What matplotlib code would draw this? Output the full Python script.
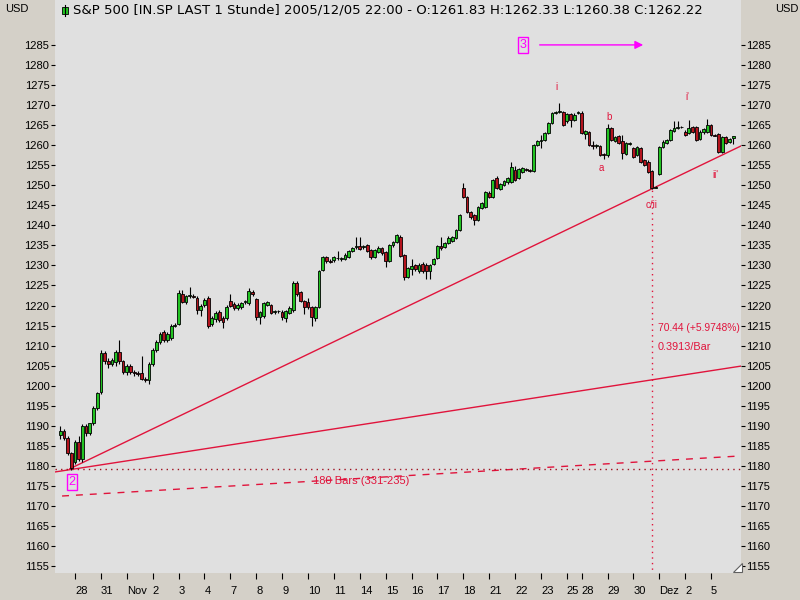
import numpy as np
import matplotlib.pyplot as plt
from matplotlib.patches import Rectangle, Polygon
from matplotlib.lines import Line2D

plt.rcParams['font.family'] = ['Liberation Sans', 'DejaVu Sans']

# bars per trading day (hourly bars), and the date label of each day
day_bars = [4, 7, 7, 7, 7, 7, 7, 7, 7, 7, 7, 7, 7, 7, 7, 7, 7, 7, 7, 7,
            4, 7, 7, 7, 7, 7, 7]
day_labels = ["", "28", "31", "Nov", "2", "3", "4", "7", "8", "9", "10", "11",
              "14", "15", "16", "17", "18", "21", "22", "23", "25", "28", "29",
              "30", "Dez", "2", "5"]

# hourly OHLC, one line per day
opens = [
    1187.6, 1188.8, 1187.0, 1183.2,                              # Oct 27
    1181.0, 1186.0, 1181.8, 1190.0, 1188.2, 1190.6, 1194.5,      # Oct 28
    1198.5, 1208.2, 1206.2, 1205.5, 1206.0, 1208.5, 1206.2,      # Oct 31
    1203.4, 1205.0, 1203.5, 1203.1, 1203.2, 1201.8, 1201.5,      # Nov 1
    1205.5, 1209.0, 1211.0, 1213.5, 1211.5, 1212.0, 1215.0,      # Nov 2
    1215.5, 1223.0, 1221.0, 1222.3, 1222.5, 1222.0, 1219.0,      # Nov 3
    1220.2, 1221.8, 1215.3, 1216.6, 1218.4, 1217.0, 1216.9,      # Nov 4
    1221.1, 1220.4, 1219.5, 1219.7, 1220.9, 1220.6, 1223.5,      # Nov 7
    1221.6, 1217.1, 1217.4, 1220.2, 1220.1, 1218.4, 1218.6,      # Nov 8
    1218.4, 1216.8, 1218.2, 1218.9, 1225.6, 1223.4, 1221.1,      # Nov 9
    1220.9, 1219.6, 1216.8, 1219.7, 1228.9, 1232.0, 1231.0,      # Nov 10
    1231.3, 1231.8, 1231.6, 1231.7, 1232.2, 1233.6, 1234.6,      # Nov 11
    1234.8, 1234.6, 1235.1, 1233.8, 1232.2, 1233.4, 1234.4,      # Nov 14
    1233.4, 1231.1, 1235.0, 1235.9, 1237.1, 1232.6, 1227.1,      # Nov 15
    1229.1, 1230.0, 1228.6, 1230.3, 1230.2, 1228.6, 1230.3,      # Nov 16
    1231.9, 1234.9, 1234.6, 1235.6, 1236.1, 1236.8, 1238.9,      # Nov 17
    1249.3, 1247.1, 1243.3, 1242.6, 1241.3, 1244.4, 1244.6,      # Nov 18
    1248.0, 1247.1, 1251.8, 1249.1, 1250.0, 1250.8, 1250.8,      # Nov 21
    1253.8, 1251.8, 1253.4, 1253.9, 1253.7, 1253.6, 1260.1,      # Nov 22
    1261.0, 1261.3, 1263.0, 1265.5, 1268.0, 1268.3, 1268.3,      # Nov 23
    1265.9, 1267.8, 1266.3, 1268.0,                              # Nov 25
    1268.1, 1262.8, 1263.3, 1260.0, 1259.8, 1259.8, 1257.7,      # Nov 28
    1257.6, 1264.2, 1261.1, 1262.3, 1261.1, 1257.8, 1260.4,      # Nov 29
    1259.2, 1257.6, 1259.2, 1256.3, 1255.9, 1253.6, 1249.4,      # Nov 30
    1252.8, 1259.6, 1260.5, 1261.3, 1263.6, 1264.3, 1264.5,      # Dec 1
    1263.4, 1263.0, 1264.6, 1264.5, 1261.5, 1263.2, 1263.4,      # Dec 2
    1265.0, 1262.5, 1262.8, 1258.4, 1262.0, 1260.9, 1261.83,     # Dec 5
]
highs = [
    1190.0, 1189.2, 1187.4, 1183.6,
    1186.5, 1187.5, 1190.5, 1190.5, 1190.8, 1195.0, 1198.5,
    1208.8, 1208.6, 1207.0, 1207.0, 1209.0, 1211.5, 1206.5,
    1205.3, 1205.4, 1204.0, 1203.6, 1207.5, 1202.3, 1206.0,
    1209.5, 1211.5, 1213.5, 1213.8, 1213.5, 1215.3, 1215.6,
    1223.8, 1224.0, 1222.6, 1224.6, 1223.0, 1222.4, 1220.4,
    1222.0, 1222.3, 1217.5, 1218.6, 1218.8, 1217.4, 1220.2,
    1223.0, 1220.8, 1220.6, 1221.0, 1221.3, 1224.5, 1223.8,
    1222.0, 1218.7, 1220.9, 1221.2, 1220.5, 1218.9, 1219.0,
    1218.8, 1218.9, 1219.8, 1226.0, 1226.0, 1223.6, 1221.4,
    1221.8, 1219.9, 1220.0, 1228.8, 1232.3, 1232.4, 1231.5,
    1232.4, 1233.5, 1232.0, 1233.0, 1233.9, 1234.7, 1237.0,
    1237.0, 1235.0, 1235.4, 1234.0, 1234.2, 1234.8, 1234.7,
    1233.7, 1235.4, 1236.2, 1237.8, 1237.6, 1232.9, 1229.7,
    1231.5, 1230.4, 1230.5, 1230.8, 1230.5, 1230.3, 1231.9,
    1235.2, 1237.0, 1235.9, 1237.4, 1237.4, 1239.2, 1242.9,
    1250.5, 1247.4, 1243.6, 1242.9, 1244.9, 1245.8, 1248.6,
    1248.6, 1251.6, 1252.2, 1250.5, 1251.2, 1252.0, 1255.8,
    1254.9, 1254.4, 1254.6, 1254.2, 1254.0, 1260.4, 1261.4,
    1262.5, 1263.3, 1265.8, 1268.3, 1268.6, 1270.5, 1268.6,
    1268.1, 1268.1, 1267.9, 1268.5,
    1268.4, 1263.9, 1263.6, 1261.0, 1260.2, 1260.1, 1258.0,
    1265.3, 1264.5, 1262.4, 1262.6, 1262.5, 1260.7, 1260.8,
    1259.6, 1259.9, 1259.5, 1256.6, 1256.2, 1253.9, 1249.8,
    1259.9, 1261.2, 1261.6, 1264.1, 1266.0, 1265.9, 1264.9,
    1263.7, 1266.3, 1264.9, 1264.8, 1263.7, 1264.4, 1266.5,
    1265.3, 1262.8, 1263.1, 1262.3, 1262.3, 1261.8, 1262.33,
]
lows = [
    1186.8, 1186.5, 1182.8, 1179.0,
    1180.5, 1181.2, 1181.0, 1187.5, 1187.8, 1190.2, 1194.0,
    1198.0, 1205.5, 1204.5, 1205.0, 1204.8, 1205.5, 1203.0,
    1202.8, 1203.0, 1202.5, 1202.5, 1201.5, 1200.9, 1200.5,
    1205.0, 1208.5, 1210.5, 1211.0, 1211.0, 1211.5, 1214.7,
    1215.2, 1220.6, 1220.5, 1222.0, 1221.8, 1218.0, 1217.5,
    1219.6, 1214.5, 1214.8, 1216.0, 1216.0, 1214.5, 1216.3,
    1219.6, 1219.0, 1218.8, 1219.2, 1220.5, 1220.2, 1222.4,
    1216.5, 1215.5, 1217.0, 1219.8, 1217.8, 1218.0, 1218.2,
    1216.5, 1216.0, 1217.8, 1218.5, 1222.5, 1220.8, 1218.0,
    1219.2, 1214.9, 1216.2, 1219.4, 1228.5, 1230.6, 1230.5,
    1230.9, 1231.4, 1231.2, 1231.4, 1231.9, 1233.3, 1234.2,
    1233.8, 1234.2, 1233.4, 1231.6, 1231.8, 1233.0, 1232.6,
    1229.5, 1230.8, 1234.7, 1235.6, 1232.0, 1226.4, 1226.8,
    1227.6, 1228.6, 1228.0, 1228.2, 1226.5, 1226.5, 1230.0,
    1231.5, 1233.8, 1234.3, 1235.3, 1235.8, 1236.5, 1238.6,
    1246.8, 1243.0, 1241.7, 1240.0, 1241.0, 1244.0, 1244.3,
    1246.8, 1246.8, 1249.0, 1248.7, 1249.7, 1250.4, 1250.5,
    1251.0, 1251.5, 1253.1, 1253.5, 1253.3, 1253.3, 1259.8,
    1259.3, 1261.0, 1262.7, 1265.2, 1267.7, 1268.0, 1264.8,
    1265.5, 1264.5, 1266.0, 1267.7,
    1262.8, 1261.5, 1259.7, 1259.0, 1259.4, 1257.3, 1256.5,
    1257.0, 1261.0, 1260.8, 1260.3, 1256.5, 1257.5, 1260.1,
    1256.8, 1257.3, 1255.6, 1254.8, 1253.1, 1249.0, 1249.2,
    1252.5, 1259.3, 1260.2, 1261.0, 1263.3, 1264.0, 1264.2,
    1262.2, 1262.7, 1263.1, 1261.0, 1261.2, 1262.9, 1263.1,
    1262.2, 1262.2, 1258.0, 1258.0, 1260.3, 1260.6, 1260.38,
]
closes = [
    1188.8, 1187.0, 1183.2, 1179.6,
    1186.0, 1181.8, 1190.0, 1188.2, 1190.6, 1194.5, 1198.2,
    1208.2, 1206.2, 1205.5, 1206.5, 1208.5, 1206.2, 1203.5,
    1205.0, 1203.5, 1203.2, 1203.0, 1201.8, 1201.5, 1205.5,
    1209.0, 1211.0, 1213.0, 1211.5, 1213.0, 1214.9, 1215.2,
    1223.2, 1221.0, 1222.3, 1222.6, 1222.2, 1219.0, 1220.0,
    1221.4, 1215.0, 1217.0, 1218.2, 1216.5, 1216.0, 1219.6,
    1219.9, 1219.5, 1220.2, 1220.6, 1221.0, 1223.6, 1222.8,
    1217.1, 1218.3, 1220.6, 1221.0, 1218.1, 1218.5, 1218.6,
    1217.1, 1218.6, 1219.5, 1225.6, 1222.9, 1221.1, 1219.7,
    1219.6, 1217.1, 1219.7, 1228.5, 1232.0, 1231.0, 1230.9,
    1232.1, 1231.8, 1231.6, 1232.7, 1233.7, 1234.4, 1234.6,
    1234.0, 1234.6, 1233.7, 1232.1, 1233.8, 1234.4, 1233.0,
    1231.1, 1235.1, 1235.9, 1237.6, 1232.4, 1227.1, 1229.4,
    1229.9, 1229.0, 1230.2, 1228.5, 1228.6, 1230.1, 1231.6,
    1234.9, 1234.3, 1235.6, 1236.9, 1237.1, 1238.9, 1242.6,
    1247.1, 1243.3, 1242.0, 1241.3, 1244.6, 1245.5, 1248.3,
    1247.1, 1251.3, 1249.3, 1250.3, 1251.0, 1251.8, 1254.6,
    1251.3, 1254.1, 1254.3, 1253.8, 1253.6, 1260.1, 1261.1,
    1261.2, 1263.0, 1265.5, 1268.0, 1268.3, 1268.6, 1265.0,
    1267.8, 1266.3, 1267.6, 1268.1,
    1263.1, 1263.6, 1260.0, 1259.9, 1259.8, 1257.6, 1257.6,
    1264.2, 1261.3, 1262.1, 1260.6, 1258.0, 1260.5, 1260.5,
    1257.1, 1259.6, 1255.9, 1255.1, 1253.4, 1249.4, 1249.5,
    1259.6, 1260.9, 1261.3, 1263.8, 1264.2, 1264.4, 1264.6,
    1262.5, 1264.2, 1263.4, 1261.3, 1263.4, 1264.1, 1265.0,
    1262.5, 1262.4, 1258.4, 1262.0, 1260.6, 1261.5, 1262.22,
]

# drawn trend lines: (bar, price) anchors
upper_line = [(2.6, 1179.3), (184.1, 1259.8)]
middle_line = [(-1.4, 1178.5), (184.1, 1204.9)]
dashed_line = [(0.5, 1172.5), (184.1, 1182.5)]
low_level = 1179.2
cii_bar, cii_price = 160, 1249.0

# wave labels: (text, bar, price)
wave_labels = [("i", 134.3, 1274.5), ("b", 148.4, 1267.0), ("a", 146.2, 1254.3),
               ("c/ii", 159.8, 1245.1), ("i'", 169.5, 1272.0), ("ii'", 177.3, 1252.6)]

RED = "#e0143c"
MAG = "#ff00ff"
GREEN = "#22c322"
DRED = "#b4141e"

fig = plt.figure(figsize=(8, 6), dpi=100, facecolor="#d4d0c8")
ax = fig.add_axes([55 / 800, 27 / 600, 686 / 800, 573 / 600], facecolor="#e0e0e0")
for s in ax.spines.values():
    s.set_visible(False)

o = np.array(opens); h = np.array(highs); l = np.array(lows); c = np.array(closes)
x = np.arange(len(c))

# lines
for (x0, y0), (x1, y1) in [upper_line, middle_line]:
    ax.plot([x0, x1], [y0, y1], color=RED, lw=1.0, zorder=2)
(x0, y0), (x1, y1) = dashed_line
ax.plot([x0, x1], [y0, y1], color=RED, lw=1.0, ls=(0, (5, 5)), zorder=2)
ax.axhline(low_level, color="#a01020", lw=1.0, ls=(0, (1, 3)), zorder=2)
ax.plot([cii_bar, cii_bar], [1150, cii_price], color=RED, lw=1.0, ls=(0, (1, 3)), zorder=2)

# candles
ax.vlines(x, l, h, color="black", lw=0.8, zorder=3)
up = c >= o
ax.bar(x, np.maximum(np.abs(c - o), 0.15), bottom=np.minimum(o, c), width=0.75,
       color=np.where(up, GREEN, DRED), edgecolor="black", linewidth=0.6, zorder=4)

# wave labels
for t, bx, by in wave_labels:
    ax.text(bx, by, t, color=RED, fontsize=7, ha="center", va="center", zorder=5)

ax.text(161.6, 1214.4, "70.44 (+5.9748%)", color=RED, fontsize=7.4, ha="left", va="center")
ax.text(161.6, 1209.6, "0.3913/Bar", color=RED, fontsize=7.8, ha="left", va="center")
ax.text(81.5, 1176.2, "180 Bars (331-235)", color=RED, fontsize=8, ha="center", va="center")

# magenta wave-count boxes and arrow
box = dict(boxstyle="square,pad=0.15", fc="none", ec=MAG, lw=1)
ax.text(125.1, 1285.0, "3", color=MAG, fontsize=9, ha="center", va="center", bbox=box)
ax.text(3.2, 1176.0, "2", color=MAG, fontsize=9, ha="center", va="center", bbox=box)
ax.annotate("", xy=(158.4, 1285.0), xytext=(128.9, 1285.0),
            arrowprops=dict(arrowstyle="-|>", color=MAG, lw=1, mutation_scale=12))

# axes
ax.set_xlim(-1.41, 184.1)
ax.set_ylim(1153.3, 1296.2)
yt = np.arange(1155, 1290, 5)
ax.set_yticks(yt)
ax.set_yticklabels([str(v) for v in yt])
ax.yaxis.set_ticks_position("both")
ax.tick_params(axis="y", which="both", direction="out", length=3, width=0.8,
               pad=1, labelsize=8, labelleft=True, labelright=True)
starts = np.cumsum([0] + day_bars[:-1])
ax.set_xticks(starts[1:])
ax.set_xticklabels(day_labels[1:])
for lab in ax.get_xticklabels():
    lab.set_ha("left")
ax.tick_params(axis="x", direction="out", length=4, width=0.8, pad=5, labelsize=8)

# header texts
fig.text(5 / 800, 1 - 9 / 600, "USD", fontsize=8, va="center", ha="left")
fig.text(775 / 800, 1 - 9 / 600, "USD", fontsize=8, va="center", ha="left")
fig.text(73 / 800, 1 - 10 / 600,
         "S&P 500 [IN.SP LAST 1 Stunde] 2005/12/05 22:00 - O:1261.83 H:1262.33 L:1260.38 C:1262.22",
         fontsize=9.5, va="center", ha="left", family="DejaVu Sans")
fig.add_artist(Line2D([65 / 800, 65 / 800], [1 - 5 / 600, 1 - 16 / 600],
                      transform=fig.transFigure, color="black", lw=0.8))
fig.add_artist(Rectangle((62 / 800, 1 - 13.5 / 600), 6 / 800, 6 / 600,
                         transform=fig.transFigure, fc=GREEN, ec="black", lw=0.6))
# small corner widget at the bottom right of the plot
fig.add_artist(Polygon([(733 / 800, 1 - 572 / 600), (742 / 800, 1 - 572 / 600),
                        (742 / 800, 1 - 563 / 600)], closed=True,
                       transform=fig.transFigure, fc="white", ec="#606060", lw=0.8))

fig.savefig("out.png", dpi=100, facecolor=fig.get_facecolor())
